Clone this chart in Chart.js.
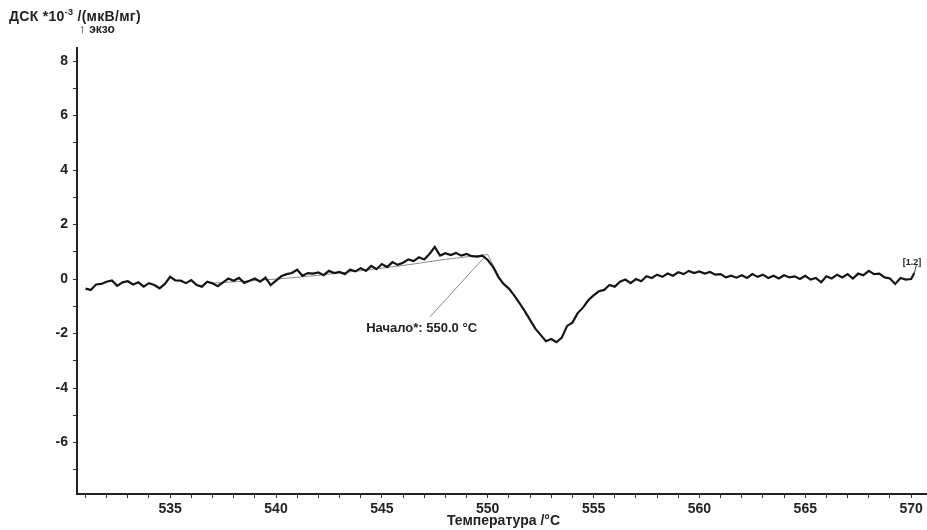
<!DOCTYPE html>
<html>
<head>
<meta charset="utf-8">
<script src="https://cdn.jsdelivr.net/npm/chart.js@4.4.1/dist/chart.umd.min.js"></script>
<style>
  html,body{margin:0;padding:0;background:#fff;}
  #wrap{position:relative;width:927px;height:530px;}
  .lbl{position:absolute;font-family:"Liberation Sans Narrow","Liberation Sans",Arial,sans-serif;font-weight:bold;color:#222;white-space:nowrap;}
  sup{font-size:9px;}
</style>
</head>
<body>
<div id="wrap">
  <canvas id="dsc" width="927" height="530"></canvas>
  <div class="lbl" style="left:9px;top:7px;font-size:14px;letter-spacing:0.3px;">ДСК *10<sup>-3</sup> /(мкВ/мг)</div>
  <div class="lbl" style="left:79px;top:21px;font-size:13px;">↑ <span style="font-size:12px">экзо</span></div>
  <div class="lbl" style="left:447px;top:512px;font-size:14px;">Температура /°C</div>
</div>
<script>
// температура, °C
const temps = [
  531.00,531.25,531.50,531.75,532.00,532.25,532.50,532.75,533.00,533.25,533.50,533.75,
  534.00,534.25,534.50,534.75,535.00,535.25,535.50,535.75,536.00,536.25,536.50,536.75,
  537.00,537.25,537.50,537.75,538.00,538.25,538.50,538.75,539.00,539.25,539.50,539.75,
  540.00,540.25,540.50,540.75,541.00,541.25,541.50,541.75,542.00,542.25,542.50,542.75,
  543.00,543.25,543.50,543.75,544.00,544.25,544.50,544.75,545.00,545.25,545.50,545.75,
  546.00,546.25,546.50,546.75,547.00,547.25,547.50,547.75,548.00,548.25,548.50,548.75,
  549.00,549.25,549.50,549.75,550.00,550.25,550.50,550.75,551.00,551.25,551.50,551.75,
  552.00,552.25,552.50,552.75,553.00,553.25,553.50,553.75,554.00,554.25,554.50,554.75,
  555.00,555.25,555.50,555.75,556.00,556.25,556.50,556.75,557.00,557.25,557.50,557.75,
  558.00,558.25,558.50,558.75,559.00,559.25,559.50,559.75,560.00,560.25,560.50,560.75,
  561.00,561.25,561.50,561.75,562.00,562.25,562.50,562.75,563.00,563.25,563.50,563.75,
  564.00,564.25,564.50,564.75,565.00,565.25,565.50,565.75,566.00,566.25,566.50,566.75,
  567.00,567.25,567.50,567.75,568.00,568.25,568.50,568.75,569.00,569.25,569.50,569.75,
  570.00,570.15
];
// ДСК сигнал *10^-3 мкВ/мг
const dsc = [
  -0.35,-0.40,-0.20,-0.18,-0.10,-0.05,-0.25,-0.12,-0.08,-0.20,-0.12,-0.28,
  -0.15,-0.22,-0.34,-0.18, 0.08,-0.05,-0.06,-0.15,-0.04,-0.22,-0.28,-0.10,
  -0.16,-0.26,-0.12, 0.02,-0.06, 0.04,-0.14,-0.06, 0.02,-0.10, 0.05,-0.22,
  -0.06, 0.10, 0.18, 0.22, 0.34, 0.12, 0.22, 0.20, 0.24, 0.14, 0.30, 0.22,
   0.26, 0.18, 0.34, 0.28, 0.40, 0.30, 0.48, 0.36, 0.55, 0.44, 0.62, 0.52,
   0.60, 0.72, 0.66, 0.80, 0.72, 0.92, 1.18, 0.86, 0.95, 0.88, 0.96, 0.86,
   0.92, 0.84, 0.82, 0.86, 0.70, 0.45, 0.08,-0.18,-0.35,-0.60,-0.88,-1.18,
  -1.50,-1.82,-2.05,-2.28,-2.20,-2.32,-2.15,-1.72,-1.60,-1.25,-1.05,-0.78,
  -0.60,-0.45,-0.40,-0.22,-0.28,-0.10,-0.02,-0.15, 0.00,-0.08, 0.10, 0.04,
   0.16, 0.08, 0.20, 0.12, 0.25, 0.18, 0.30, 0.22, 0.28, 0.20, 0.26, 0.16,
   0.18, 0.06, 0.12, 0.05, 0.14, 0.04, 0.18, 0.08, 0.16, 0.04, 0.12, 0.02,
   0.14, 0.06, 0.10, 0.00, 0.12,-0.02, 0.04,-0.12, 0.10, 0.02, 0.16, 0.06,
   0.18, 0.02, 0.20, 0.14, 0.30, 0.18, 0.20, 0.06, 0.02,-0.18, 0.04,-0.02,
   0.00, 0.22
];
// базовая линия и касательная (начало пика)
const baseT = [537.0, 540.0, 543.0, 546.0, 548.0, 550.0];
const baseY = [-0.15, 0.00, 0.22, 0.50, 0.72, 0.90];
const tangT = [550.0, 550.6];
const tangY = [0.90, 0.00];
// выноска к подписи
const leadT = [549.85, 547.27];
const leadY = [0.81, -1.39];
const onsetLabel = 'Начало*: 550.0 °C';
const onsetAt = [544.26, -1.80];
// метка кривой
const curveTag = '[1.2]';
const tagLeadT = [570.15, 570.25];
const tagLeadY = [0.22, 0.52];
const tagAt = [569.6, 0.62];

const xMin = 530.6, xMax = 570.75;
const yMin = -7.89, yMax = 8.48;

const pts = (xs, ys) => xs.map((x,i)=>({x:x, y:ys[i]}));
const FONT = '"Liberation Sans Narrow","Liberation Sans",Arial,sans-serif';

const textPlugin = {
  id:'annText',
  afterDatasetsDraw(c){
    const ctx = c.ctx, xs = c.scales.x, ys = c.scales.y;
    ctx.save();
    ctx.fillStyle = '#222';
    ctx.font = 'bold 13px ' + FONT;
    ctx.textBaseline = 'middle';
    ctx.fillText(onsetLabel, xs.getPixelForValue(onsetAt[0]), ys.getPixelForValue(onsetAt[1]));
    ctx.font = 'bold 9px ' + FONT;
    ctx.fillText(curveTag, xs.getPixelForValue(tagAt[0]), ys.getPixelForValue(tagAt[1]));
    ctx.restore();
  }
};

new Chart(document.getElementById('dsc'), {
  type:'scatter',
  data:{
    datasets:[
      {data:pts(temps,dsc), showLine:true, borderColor:'#151515', borderWidth:2.2, pointRadius:0, tension:0},
      {data:pts(baseT,baseY), showLine:true, borderColor:'#8a8a8a', borderWidth:1, pointRadius:0, tension:0.4},
      {data:pts(tangT,tangY), showLine:true, borderColor:'#8a8a8a', borderWidth:1, pointRadius:0},
      {data:pts(leadT,leadY), showLine:true, borderColor:'#8a8a8a', borderWidth:1, pointRadius:0},
      {data:pts(tagLeadT,tagLeadY), showLine:true, borderColor:'#444', borderWidth:1, pointRadius:0}
    ]
  },
  options:{
    responsive:false,
    animation:false,
    layout:{padding:{top:48, right:0, bottom:0, left:0}},
    plugins:{legend:{display:false}, tooltip:{enabled:false}},
    scales:{
      x:{
        type:'linear', min:xMin, max:xMax,
        border:{display:true, color:'#222', width:2},
        grid:{drawOnChartArea:false, drawTicks:true, tickLength:4, color:'#333'},
        ticks:{stepSize:1, includeBounds:false, autoSkip:false, maxRotation:0, padding:3,
          color:'#222', font:{family:FONT, size:14, weight:'bold'},
          callback:v=> (Math.round(v)%5===0 ? String(Math.round(v)) : '')},
        afterFit:s=>{ s.height = 36; }
      },
      y:{
        type:'linear', min:yMin, max:yMax,
        border:{display:true, color:'#222', width:2},
        grid:{drawOnChartArea:false, drawTicks:true, tickLength:4, color:'#333'},
        ticks:{stepSize:1, includeBounds:false, autoSkip:false, padding:5,
          color:'#222', font:{family:FONT, size:14, weight:'bold'},
          callback:v=> (Math.round(v)%2===0 ? String(Math.round(v)) : '')},
        afterFit:s=>{ s.width = 77; }
      }
    }
  },
  plugins:[textPlugin]
});
</script>
</body>
</html>
